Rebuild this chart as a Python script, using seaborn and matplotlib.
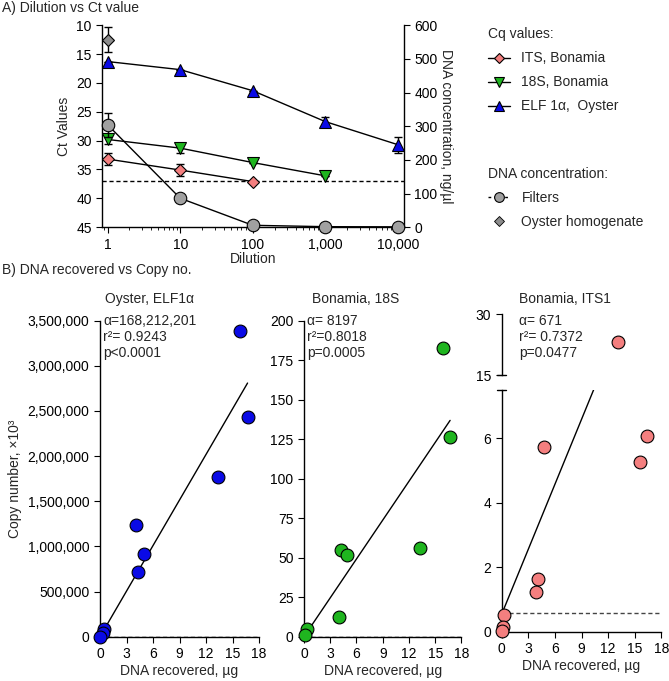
import numpy as np
import matplotlib
matplotlib.use('Agg')
import matplotlib.pyplot as plt
import matplotlib.ticker as mticker
from matplotlib.lines import Line2D
import seaborn as sns

# --- Panel A: dilution series (Ct values, left axis) ---
dilution = [1, 10, 100, 1000, 10000]
its_ct = [33.2, 35.1, 37.1]
its_err = [1.1, 1.1, 0.0]
s18_ct = [29.8, 31.3, 33.8, 36.1]
s18_err = [0.8, 0.9, 0.0, 0.0]
elf_ct = [16.3, 17.7, 21.35, 26.7, 30.7]
elf_err = [0.0, 0.0, 0.0, 0.8, 1.4]
ct_cutoff = 37.0

# DNA concentration (right axis, ng/µl)
filters_conc = [304, 86, 5.6, 1.5, 1.0]
filters_err = [36, 0, 0, 0, 0]
homog_conc = [557]
homog_err = [37]

# --- Panel B: DNA recovered vs copy number ---
elf_x = [13.3, 4.1, 5.0, 4.3, 0.45, 0.35, 0.05, 15.9, 16.7]
elf_y = [1770000, 1240000, 916000, 716000, 85000, 40000, 0, 3390000, 2430000]
elf_slope = 168212.201

s18b_x = [15.85, 16.7, 13.3, 4.2, 4.9, 4.0, 0.4, 0.1]
s18b_y = [183, 126.3, 56, 55, 52, 12.6, 4.9, 1.0]
s18b_slope = 8.197

itsb_x = [13.1, 16.4, 15.6, 4.8, 4.1, 3.9, 0.25, 0.2, 0.05]
itsb_y = [23.1, 6.07, 5.27, 5.74, 1.65, 1.25, 0.53, 0.16, 0.04]
itsb_slope = 0.671
itsb_intercept = 0.55
itsb_cutoff = 0.58

BLUE = '#0a0ae6'
GREEN = '#1fb51f'
SALMON = '#f47f7f'
GREY = '#a0a0a0'
DGREY = '#8c8c8c'

sns.set_style('ticks')
plt.rcParams['font.family'] = ['Liberation Sans', 'DejaVu Sans']
plt.rcParams['font.size'] = 10
plt.rcParams['axes.linewidth'] = 1.0
plt.rcParams['xtick.major.size'] = 4
plt.rcParams['ytick.major.size'] = 4
plt.rcParams['xtick.color'] = 'black'
plt.rcParams['ytick.color'] = 'black'
plt.rcParams['axes.edgecolor'] = 'black'

fig = plt.figure(figsize=(6.69, 6.81), dpi=100)

# ================= Panel A =================
axA = fig.add_axes([0.1529, 0.6664, 0.4510, 0.2966])
axR = axA.twinx()
axA.set_xscale('log')
axA.set_xlim(0.843, 12200)
axA.set_ylim(45, 10)
axR.set_ylim(0, 600)

ebkw = dict(color='black', lw=1, capsize=3, capthick=1, ls='none', zorder=2)
mkkw = dict(markeredgecolor='black', markeredgewidth=0.8, zorder=4, clip_on=False)

# series on Ct axis
axA.plot(dilution[:3], its_ct, color='black', lw=1, zorder=1)
axA.errorbar(dilution[:3], its_ct, yerr=its_err, **ebkw)
axA.plot(dilution[:3], its_ct, ls='none', marker='D', ms=6, color=SALMON, **mkkw)

axA.plot(dilution[:4], s18_ct, color='black', lw=1, zorder=1)
axA.errorbar(dilution[:4], s18_ct, yerr=s18_err, **ebkw)
axA.plot(dilution[:4], s18_ct, ls='none', marker='v', ms=8, color=GREEN, **mkkw)

axA.plot(dilution, elf_ct, color='black', lw=1, zorder=1)
axA.errorbar(dilution, elf_ct, yerr=elf_err, **ebkw)
axA.plot(dilution, elf_ct, ls='none', marker='^', ms=8, color=BLUE, **mkkw)

axA.axhline(ct_cutoff, color='black', lw=1, ls=(0, (3, 2)), zorder=1)

# concentrations on right axis
axR.plot(dilution, filters_conc, color='black', lw=1, zorder=1)
axR.errorbar(dilution, filters_conc, yerr=filters_err, **ebkw)
axR.plot(dilution, filters_conc, ls='none', marker='o', ms=9, color=GREY, **mkkw)
axR.errorbar(dilution[:1], homog_conc, yerr=homog_err, **ebkw)
axR.plot(dilution[:1], homog_conc, ls='none', marker='D', ms=6, color=DGREY, **mkkw)

axA.set_yticks(range(10, 50, 5))
axR.set_yticks(range(0, 700, 100))
axA.set_xticks(dilution)
axA.xaxis.set_major_formatter(mticker.FuncFormatter(lambda v, p: f'{int(v):,}'))
axA.xaxis.set_minor_locator(mticker.LogLocator(base=10, subs=np.arange(2, 10)))
axA.xaxis.set_minor_formatter(mticker.NullFormatter())
axA.tick_params(axis='x', which='minor', length=2.5)
axA.set_ylabel('Ct Values', labelpad=4)
axA.set_xlabel('Dilution', labelpad=0)
axR.set_ylabel('DNA concentration, ng/µl', rotation=270, labelpad=11)
for a in (axA, axR):
    a.spines['top'].set_visible(False)
axR.spines['bottom'].set_visible(False)
axR.spines['left'].set_visible(False)
axA.spines['right'].set_visible(False)

# legends
cq_handles = [
    Line2D([], [], color='black', lw=1, marker='D', ms=5, mfc=SALMON, mec='black', mew=0.8),
    Line2D([], [], color='black', lw=1, marker='v', ms=7, mfc=GREEN, mec='black', mew=0.8),
    Line2D([], [], color='black', lw=1, marker='^', ms=7, mfc=BLUE, mec='black', mew=0.8),
]
cq_labels = ['ITS, Bonamia', '18S, Bonamia', 'ELF 1α,  Oyster']
fig.legend(cq_handles, cq_labels, title='Cq values:', loc='upper left',
           bbox_to_anchor=(0.711, 0.978), frameon=False, alignment='left',
           handlelength=1.6, handletextpad=0.8, labelspacing=0.72,
           fontsize=10, title_fontsize=10)
conc_handles = [
    Line2D([], [], color='black', lw=1, ls=(0, (2, 2)), marker='o', ms=7, mfc=GREY, mec='black', mew=0.8),
    Line2D([], [], color='none', marker='D', ms=5, mfc=DGREY, mec='black', mew=0.6),
]
fig.legend(conc_handles, ['Filters', 'Oyster homogenate'], title='DNA concentration:',
           loc='upper left', bbox_to_anchor=(0.711, 0.773), frameon=False,
           alignment='left', handlelength=1.6, handletextpad=0.8, labelspacing=0.72,
           fontsize=10, title_fontsize=10)

fig.text(0.003, 0.988, 'A) Dilution vs Ct value', ha='left', va='center', fontsize=10)
fig.text(0.003, 0.604, 'B) DNA recovered vs Copy no.', ha='left', va='center', fontsize=10)

# ================= Panel B =================
def style_b(ax):
    sns.despine(ax=ax)
    ax.set_xlim(0, 18)
    ax.set_xticks(range(0, 19, 3))
    ax.set_xlabel('DNA recovered, µg', labelpad=2)


def annotate(ax, lines, top_frac):
    for i, t in enumerate(lines):
        ax.text(0.02, top_frac - i * 0.0506, t, transform=ax.transAxes,
                ha='left', va='center', fontsize=10)


sc_kw = dict(s=85, edgecolor='black', linewidth=0.8, zorder=4, clip_on=False, legend=False)

# --- Oyster ELF1α ---
ax1 = fig.add_axes([0.1495, 0.0651, 0.2377, 0.4640])
style_b(ax1)
ax1.set_ylim(0, 3500000)
ax1.set_yticks(range(0, 3500001, 500000))
ax1.yaxis.set_major_formatter(mticker.FuncFormatter(lambda v, p: f'{int(v):,}'))
fx = np.array([0, max(elf_x)])
ax1.plot(fx, elf_slope * fx, color='black', lw=1, zorder=2)
ax1.axhline(0, color='black', lw=1, ls=(0, (3, 2)), zorder=1)
sns.scatterplot(x=elf_x, y=elf_y, color=BLUE, ax=ax1, **sc_kw)
ax1.set_ylabel('Copy number, ×10³', labelpad=4)
ax1.text(0.03, 1.069, 'Oyster, ELF1α', transform=ax1.transAxes, ha='left', va='center')
annotate(ax1, ['α=168,212,201', 'r²= 0.9243', 'p<0.0001'], 1.0)

# --- Bonamia 18S ---
ax2 = fig.add_axes([0.4544, 0.0651, 0.2354, 0.4640])
style_b(ax2)
ax2.set_ylim(0, 200)
ax2.set_yticks(range(0, 201, 25))
fx = np.array([0, max(s18b_x)])
ax2.plot(fx, s18b_slope * fx, color='black', lw=1, zorder=2)
ax2.axhline(0, color='black', lw=1, ls=(0, (3, 2)), zorder=1)
sns.scatterplot(x=s18b_x, y=s18b_y, color=GREEN, ax=ax2, **sc_kw)
ax2.text(0.05, 1.069, 'Bonamia, 18S', transform=ax2.transAxes, ha='left', va='center')
annotate(ax2, ['α= 8197', 'r²=0.8018', 'p=0.0005'], 1.0)

# --- Bonamia ITS1 (broken axis) ---
ax3 = fig.add_axes([0.7499, 0.0720, 0.2387, 0.3554])
ax3u = fig.add_axes([0.7499, 0.4493, 0.2387, 0.0896], sharex=ax3)
style_b(ax3)
ax3.set_ylim(0, 7.5)
ax3.set_yticks([0, 2, 4, 6])
ax3u.set_ylim(15, 30)
ax3u.set_yticks([15, 30])
for s in ('top', 'right', 'bottom'):
    ax3u.spines[s].set_visible(False)
ax3u.tick_params(axis='x', bottom=False, labelbottom=False)
fx = np.array([0, max(itsb_x)])
ax3.plot(fx, itsb_intercept + itsb_slope * fx, color='black', lw=1, zorder=2)
ax3.plot([min(itsb_x), 18], [itsb_cutoff, itsb_cutoff], color='#444444', lw=1,
         ls=(0, (3, 2)), zorder=1)
lo = [(x, y) for x, y in zip(itsb_x, itsb_y) if y < 15]
hi = [(x, y) for x, y in zip(itsb_x, itsb_y) if y >= 15]
sns.scatterplot(x=[p[0] for p in lo], y=[p[1] for p in lo], color=SALMON, ax=ax3, **sc_kw)
sns.scatterplot(x=[p[0] for p in hi], y=[p[1] for p in hi], color=SALMON, ax=ax3u, **sc_kw)
# break marks
ax3u.plot([-0.03, 0.03], [0, 0], transform=ax3u.transAxes, color='black', lw=1, clip_on=False)
ax3.plot([-0.03, 0.03], [1, 1], transform=ax3.transAxes, color='black', lw=1, clip_on=False)
ax3u.text(0.11, 1.246, 'Bonamia, ITS1', transform=ax3u.transAxes, ha='left', va='center')
ax3u.text(0.11, 0.885, 'α= 671', transform=ax3u.transAxes, ha='left', va='center')
ax3u.text(0.11, 0.623, 'r²= 0.7372', transform=ax3u.transAxes, ha='left', va='center')
ax3u.text(0.11, 0.36, 'p=0.0477', transform=ax3u.transAxes, ha='left', va='center')

fig.savefig('out.png', dpi=100)
